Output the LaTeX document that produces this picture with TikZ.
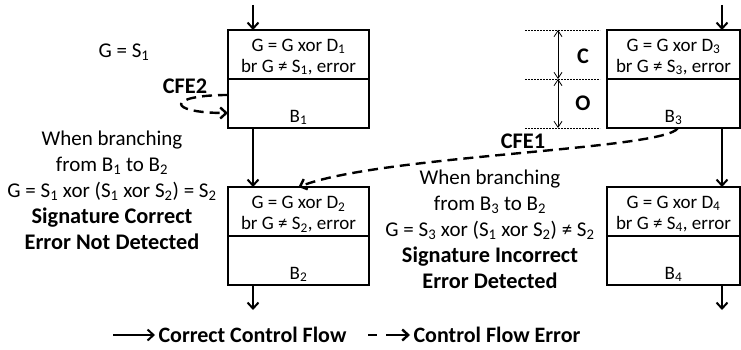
\documentclass[tikz,border=0pt]{standalone}
\usepackage{fontspec}
\setmainfont{Carlito}
\usetikzlibrary{positioning,arrows.meta,calc}

\begin{document}
\begin{tikzpicture}[x=1pt,y=-1pt,
 chk/.style={draw,line width=2.4pt,minimum width=141pt,minimum height=49pt,inner sep=0pt,outer sep=0pt},
 wide/.style={minimum width=133pt},
 txt/.style={align=center,font=\fontsize{19}{21}\selectfont},
 sub/.style={anchor=base,font=\fontsize{19}{21}\selectfont},
 lbl/.style={align=center,font=\fontsize{21}{26}\selectfont},
 bl/.style={lbl,font=\fontsize{22.3}{26}\selectfont\bfseries},
 flow/.style={-{Straight Barb[length=6pt,width=11pt]},line width=2pt},
 err/.style={flow,line width=2.4pt,dash pattern=on 10pt off 6pt},
 dim/.style={{Straight Barb[length=6pt,width=8pt]}-{Straight Barb[length=6pt,width=8pt]},line width=0.8pt},
 guide/.style={line width=0.8pt,dash pattern=on 2pt off 1pt}]
\useasboundingbox (0,0) rectangle (741,350);

% blocks
\node[chk,anchor=north west] (c1) at (228,30) {};
\node[chk,below=0pt of c1] (b1) {};
\node[txt] (x1) at ([yshift=-2.5pt]c1.center) {G = G xor D\textsubscript{1}\\br G ≠ S\textsubscript{1}, error};
\node[sub] (l1) at ([yshift=6pt]b1.south) {B\textsubscript{1}};
\node[chk,anchor=north west] (c2) at (228,187) {};
\node[chk,below=0pt of c2] (b2) {};
\node[txt] (x2) at ([yshift=-2.5pt]c2.center) {G = G xor D\textsubscript{2}\\br G ≠ S\textsubscript{2}, error};
\node[sub] (l2) at ([yshift=6pt]b2.south) {B\textsubscript{2}};
\node[chk,wide,anchor=north west] (c3) at (607,30) {};
\node[chk,wide,below=0pt of c3] (b3) {};
\node[txt] (x3) at ([yshift=-2.5pt]c3.center) {G = G xor D\textsubscript{3}\\br G ≠ S\textsubscript{3}, error};
\node[sub] (l3) at ([yshift=6pt]b3.south) {B\textsubscript{3}};
\node[chk,wide,anchor=north west] (c4) at (607,187) {};
\node[chk,wide,below=0pt of c4] (b4) {};
\node[txt] (x4) at ([yshift=-2.5pt]c4.center) {G = G xor D\textsubscript{4}\\br G ≠ S\textsubscript{4}, error};
\node[sub] (l4) at ([yshift=6pt]b4.south) {B\textsubscript{4}};

% correct flow
\coordinate (i1) at (253,5);
\coordinate (o2) at (253,310);
\coordinate (i3) at (722,5);
\coordinate (o4) at (722,310);
\draw[flow] (i1) -- (i1 |- c1.north);
\draw[flow] (b1.south -| i1) -- (c2.north -| i1);
\draw[flow] (b2.south -| o2) -- (o2);
\draw[flow] (i3) -- (i3 |- c3.north);
\draw[flow] (b3.south -| i3) -- (c4.north -| i3);
\draw[flow] (b4.south -| o4) -- (o4);

% control flow errors
\draw[err] ([yshift=8.5pt]b1.west) .. controls +(-62,0) and +(-62,0) .. ([yshift=-9.5pt]b1.west);
\node[bl] (e2) at (185,86) {CFE2};
\draw[err] ([xshift=4.5pt]b3.south) .. controls +(-13,22) and +(82,-32) .. (c2.north);
\node[bl] (e1) at (523,141) {CFE1};

% sizes of the two parts
\coordinate (g0) at (558,30);
\coordinate (g1) at (558,79);
\coordinate (g2) at (558,128);
\foreach \g in {g0,g1,g2}
  \draw[guide] ([xshift=-33pt]\g) -- ([xshift=42pt]\g);
\draw[dim] (g0) -- (g1);
\draw[dim] (g1) -- (g2);
\node[bl] (cc) at (583,56) {C};
\node[bl] (oo) at (583,103) {O};

% explanations
\node[lbl] (s1) at (124,52) {G = S\textsubscript{1}};
\node[lbl] (w12) at (112,190) {When branching\\from B\textsubscript{1} to B\textsubscript{2}\\G = S\textsubscript{1} xor (S\textsubscript{1} xor S\textsubscript{2}) = S\textsubscript{2}\\{\fontsize{22.3}{26}\selectfont\bfseries Signature Correct}\\{\fontsize{22.3}{26}\selectfont\bfseries Error Not Detected}};
\node[lbl] (w32) at (490,229) {When branching\\from B\textsubscript{3} to B\textsubscript{2}\\G = S\textsubscript{3} xor (S\textsubscript{1} xor S\textsubscript{2}) ≠ S\textsubscript{2}\\{\fontsize{22.3}{26}\selectfont\bfseries Signature Incorrect}\\{\fontsize{22.3}{26}\selectfont\bfseries Error Detected}};

% legend
\coordinate (k1) at (113,335);
\node[bl,font=\fontsize{22}{26}\selectfont\bfseries,anchor=west] (t1) at (155,335) {Correct Control Flow};
\draw[flow] (k1) -- (t1.west);
\coordinate (k2) at (368,335);
\node[bl,font=\fontsize{22}{26}\selectfont\bfseries,anchor=west] (t2) at (410,335) {Control Flow Error};
\draw[err,dash pattern=on 9pt off 9pt on 30pt off 0pt] (k2) -- (t2.west);
\end{tikzpicture}
\end{document}
